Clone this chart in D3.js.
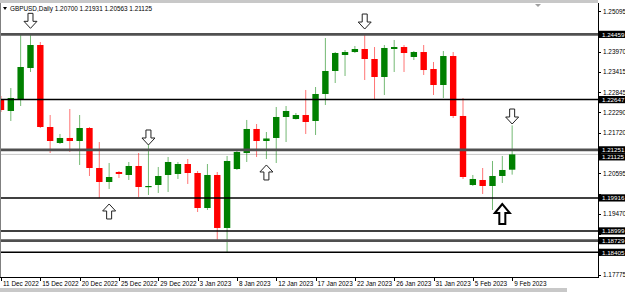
<!DOCTYPE html>
<html><head><meta charset="utf-8">
<script src="https://cdn.jsdelivr.net/npm/d3@7"></script>
<style>
body{margin:0;background:#fff;overflow:hidden;}
svg{display:block;font-family:"Liberation Sans",Arial,sans-serif;}
</style>
</head><body>
<svg id="c" width="625" height="292"></svg>
<script>
// ---------- data ----------
const dates = ["2022-12-11","2022-12-12","2022-12-13","2022-12-14","2022-12-15","2022-12-16",
"2022-12-18","2022-12-19","2022-12-20","2022-12-21","2022-12-22","2022-12-23",
"2022-12-25","2022-12-26","2022-12-27","2022-12-28","2022-12-29","2022-12-30",
"2023-01-01","2023-01-02","2023-01-03","2023-01-04","2023-01-05","2023-01-06",
"2023-01-08","2023-01-09","2023-01-10","2023-01-11","2023-01-12","2023-01-13",
"2023-01-15","2023-01-16","2023-01-17","2023-01-18","2023-01-19","2023-01-20",
"2023-01-22","2023-01-23","2023-01-24","2023-01-25","2023-01-26","2023-01-27",
"2023-01-29","2023-01-30","2023-01-31","2023-02-01","2023-02-02","2023-02-03",
"2023-02-05","2023-02-06","2023-02-07","2023-02-08","2023-02-09"];
const open = [1.22636,1.22331,1.22636,1.23525,1.24164,1.21886,1.21442,1.21581,1.21497,1.21858,1.20747,1.20358,1.20636,1.20553,1.20803,1.20233,1.20275,1.20553,1.20581,1.20858,1.20608,1.19636,1.20553,1.19081,1.20719,1.21164,1.21831,1.21497,1.21581,1.22164,1.22108,1.22219,1.22053,1.22803,1.23442,1.23886,1.23969,1.24053,1.23775,1.23275,1.24053,1.24108,1.23831,1.23969,1.23497,1.23053,1.23858,1.22192,1.20275,1.20414,1.20247,1.20525,1.20700];
const high = [1.22747,1.22969,1.24442,1.24459,1.24247,1.22219,1.21692,1.22386,1.22219,1.21886,1.21469,1.20886,1.20664,1.20914,1.21164,1.21386,1.20775,1.21053,1.20914,1.20997,1.20664,1.20858,1.20636,1.21081,1.21247,1.22081,1.21969,1.21747,1.22442,1.22469,1.22275,1.22914,1.22997,1.24358,1.23969,1.24025,1.24136,1.24497,1.24108,1.24164,1.24303,1.24164,1.23997,1.24164,1.23692,1.23997,1.23969,1.22692,1.20553,1.20747,1.20942,1.21081,1.21931];
const low = [1.22303,1.22053,1.22469,1.23414,1.21858,1.21164,1.21414,1.21192,1.20831,1.20525,1.19914,1.20164,1.20469,1.20414,1.19942,1.19997,1.20053,1.20081,1.20442,1.20303,1.19525,1.19581,1.18747,1.18414,1.20692,1.20914,1.21053,1.20997,1.20886,1.21469,1.22094,1.21692,1.21664,1.22497,1.23108,1.23303,1.23942,1.23192,1.22636,1.22775,1.23414,1.23414,1.23747,1.23331,1.22775,1.22692,1.22136,1.20442,1.20247,1.20025,1.19581,1.20331,1.20563];
const close = [1.22358,1.22692,1.23553,1.24164,1.21886,1.21497,1.21581,1.21497,1.21858,1.20747,1.20358,1.20497,1.20581,1.20803,1.20219,1.20247,1.20525,1.20914,1.20858,1.20608,1.19636,1.20553,1.19081,1.20942,1.21192,1.21831,1.21497,1.21567,1.22164,1.22331,1.22219,1.22025,1.22803,1.23442,1.23942,1.23969,1.24053,1.23775,1.23275,1.24081,1.24108,1.23942,1.23969,1.23469,1.23053,1.23858,1.22192,1.20497,1.20442,1.20247,1.20525,1.20692,1.21125];

const priceTicks = [1.25095,1.24530,1.23970,1.23415,1.22845,1.22290,1.21720,1.21150,1.20595,1.20025,1.19470,1.18900,1.18335,1.17775];
const dateTicks = ["2022-12-11","2022-12-15","2022-12-20","2022-12-25","2022-12-29","2023-01-03","2023-01-08","2023-01-12","2023-01-17","2023-01-22","2023-01-26","2023-01-31","2023-02-05","2023-02-09"];

const levelPrices = [1.24459,1.22647,1.21251,1.19916,1.18999,1.18729,1.18405];
const levelKinds  = ["major","minor","major","minor","minor","major","minor"];
const bidPrice = 1.21125;

const arrowDates  = ["2022-12-14","2022-12-23","2022-12-28","2023-01-11","2023-01-23","2023-02-08","2023-02-09"];
const arrowPrices = [1.24627,1.19747,1.21386,1.20831,1.24608,1.19747,1.21969];
const arrowDirs   = ["down","up","down","up","down","up","down"];
const arrowKinds  = ["thin","thin","thin","thin","thin","bold","thin"];

const title = "GBPUSD,Daily  1.20700 1.21931 1.20563 1.21125";

// ---------- layout ----------
const W = 625, H = 292;
const P = {left:1, right:598, top:4, bottom:277};
const svg = d3.select("#c");

const y = d3.scaleLinear().domain([1.17719, 1.25303]).range([P.bottom, P.top]);
const step = 9.83;
const x = d3.scaleBand().domain(dates).range([-3.92, -3.92 + dates.length*step]).paddingInner(0);
const cx = d => x(d) + x.bandwidth()/2;

svg.append("rect").attr("width",W).attr("height",H).attr("fill","#fff");
svg.append("rect").attr("x",0).attr("y",0).attr("width",598).attr("height",3).attr("fill","#c8c8c8");
svg.append("rect").attr("x",0).attr("y",288).attr("width",567).attr("height",4).attr("fill","#c8c8c8");

const clipId = "plotclip";
svg.append("clipPath").attr("id",clipId).append("rect")
  .attr("x",P.left).attr("y",P.top).attr("width",P.right-P.left).attr("height",P.bottom-P.top);
const plot = svg.append("g").attr("clip-path",`url(#${clipId})`);

const bars = dates.map((d,i)=>({d, o:open[i], h:high[i], l:low[i], c:close[i]}));

plot.append("line").attr("x1",P.left).attr("x2",P.right)
  .attr("y1",y(bidPrice)).attr("y2",y(bidPrice)).attr("stroke","#c8c8c8").attr("stroke-width",1);

const GREEN = "#008000", RED = "#ff0000";
const col = b => b.c >= b.o ? GREEN : RED;

plot.selectAll("line.wick").data(bars).join("line").attr("class","wick")
  .attr("x1",b=>cx(b.d)).attr("x2",b=>cx(b.d))
  .attr("y1",b=>y(b.h)).attr("y2",b=>y(b.l))
  .attr("stroke",col).attr("stroke-opacity",0.55).attr("stroke-width",1);

const bw = 6.4;
plot.selectAll("rect.body").data(bars).join("rect").attr("class","body")
  .attr("x",b=>cx(b.d)-bw/2).attr("width",bw)
  .attr("y",b=>y(Math.max(b.o,b.c)))
  .attr("height",b=>Math.max(1.2, Math.abs(y(b.o)-y(b.c))))
  .attr("fill",col);

plot.selectAll("line.level").data(levelPrices).join("line").attr("class","level")
  .attr("x1",P.left).attr("x2",P.right)
  .attr("y1",p=>y(p)).attr("y2",p=>y(p))
  .attr("stroke",(p,i)=>levelKinds[i]==="major" ? "#505050" : "#000")
  .attr("stroke-width",(p,i)=>levelKinds[i]==="major" ? 2.6 : 1.5);

const arrows = arrowDates.map((d,i)=>({d, p:arrowPrices[i], dir:arrowDirs[i], kind:arrowKinds[i]}));
function arrowPath(a){
  const s = a.kind==="bold" ? {hw:7.5,hh:9,sw:3,len:20} : {hw:6.5,hh:7,sw:2.5,len:15};
  const k = a.dir==="down" ? -1 : 1;
  return `M0,0 L${-s.hw},${k*s.hh} L${-s.sw},${k*s.hh} L${-s.sw},${k*s.len} L${s.sw},${k*s.len} L${s.sw},${k*s.hh} L${s.hw},${k*s.hh} Z`;
}
plot.selectAll("path.arrow").data(arrows).join("path").attr("class","arrow")
  .attr("transform",a=>`translate(${cx(a.d)},${y(a.p)})`)
  .attr("d",arrowPath)
  .attr("fill","#fff")
  .attr("stroke",a=>a.kind==="bold" ? "#000" : "#222")
  .attr("stroke-width",a=>a.kind==="bold" ? 2 : 1)
  .attr("stroke-linejoin","miter");

svg.append("line").attr("x1",0.5).attr("x2",0.5).attr("y1",3).attr("y2",P.bottom).attr("stroke","#808080");
svg.append("line").attr("x1",0).attr("x2",P.right+1).attr("y1",P.bottom+0.5).attr("y2",P.bottom+0.5).attr("stroke","#000");
svg.append("line").attr("x1",P.right+0.5).attr("x2",P.right+0.5).attr("y1",3).attr("y2",P.bottom+1).attr("stroke","#000");

svg.append("path").attr("d","M3,7 L7,7 L5,10 Z").attr("fill","#000");
svg.append("text").attr("x",10).attr("y",10.5).attr("font-size",6.4).attr("fill","#000").text(title);
svg.append("path").attr("d","M535,4 L541,4 L538,7 Z").attr("fill","#a0a0a0");

// price axis: tags (level prices + bid) hide the regular labels that they cover
const fmt = d3.format(".5f");
const tags = levelPrices.concat([bidPrice]).sort((a,b)=>b-a);
// nudge stacked tags apart so they read one under the other
const tagY = [];
tags.forEach((p,i)=>{
  let yy = y(p);
  if (i>0 && yy - tagY[i-1] < 7) yy = tagY[i-1] + 7;
  tagY.push(yy);
});
const visibleTicks = priceTicks.filter(p => tagY.every(t => Math.abs(y(p)-t) >= 6.5));

const pa = svg.append("g");
pa.selectAll("line").data(priceTicks).join("line")
  .attr("x1",P.right).attr("x2",P.right+3).attr("y1",p=>Math.round(y(p))+0.5).attr("y2",p=>Math.round(y(p))+0.5)
  .attr("stroke","#000");
pa.selectAll("text").data(visibleTicks).join("text")
  .attr("x",P.right+5).attr("y",p=>y(p)+2.3).attr("font-size",6.4).attr("fill","#000").text(fmt);

const tg = svg.append("g");
tg.selectAll("rect").data(tags).join("rect")
  .attr("x",P.right+1).attr("y",(p,i)=>tagY[i]-3.6).attr("width",W-P.right-1).attr("height",7.2).attr("fill","#000");
tg.selectAll("text").data(tags).join("text")
  .attr("x",P.right+4).attr("y",(p,i)=>tagY[i]+2.2).attr("font-size",6.2).attr("fill","#fff").text(fmt);

// date axis
const tf = d3.timeFormat("%-d %b %Y"), tp = d3.timeParse("%Y-%m-%d");
const da = svg.append("g");
da.selectAll("line").data(dateTicks).join("line")
  .attr("x1",d=>Math.round(cx(d))+0.5).attr("x2",d=>Math.round(cx(d))+0.5)
  .attr("y1",P.bottom).attr("y2",P.bottom+4).attr("stroke","#000");
da.selectAll("text").data(dateTicks).join("text")
  .attr("x",d=>Math.max(2, cx(d)+2)).attr("y",285.5).attr("font-size",6.4).attr("fill","#000")
  .text(d=>tf(tp(d)));
</script>
</body></html>
